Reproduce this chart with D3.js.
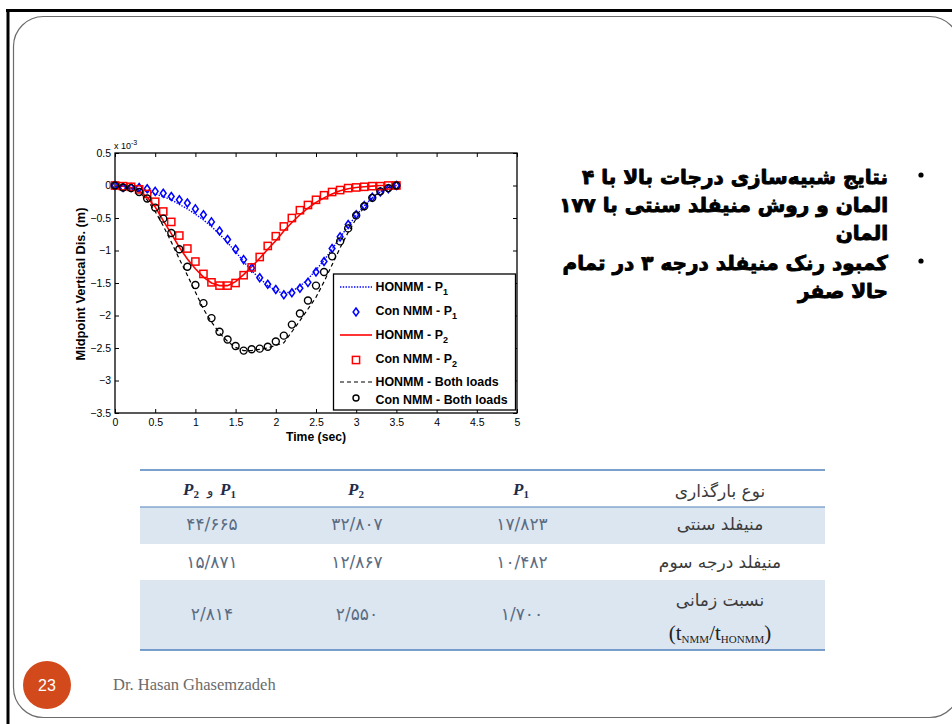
<!DOCTYPE html>
<html>
<head>
<meta charset="utf-8">
<script src="https://cdn.jsdelivr.net/npm/d3@7/dist/d3.min.js"></script>
<style>
  html, body { margin: 0; padding: 0; background: #fff; }
  svg { display: block; }
</style>
</head>
<body>
<svg id="slide" width="952" height="724"></svg>
<script>
// ---- Chart data: midpoint vertical displacement (x 10^-3 m) against time (s) ----
const time = [0,0.1,0.2,0.3,0.4,0.5,0.6,0.7,0.8,0.9,1.0,1.1,1.2,1.3,1.4,1.5,1.6,1.7,1.8,1.9,
              2.0,2.1,2.2,2.3,2.4,2.5,2.6,2.7,2.8,2.9,3.0,3.1,3.2,3.3,3.4,3.5];

const honmmP1 = [0,-0.01,-0.03,-0.06,-0.09,-0.13,-0.17,-0.22,-0.29,-0.36,-0.44,-0.53,-0.63,-0.75,-0.88,-1.02,
                 -1.17,-1.31,-1.43,-1.54,-1.62,-1.66,-1.63,-1.55,-1.44,-1.30,-1.15,-0.98,-0.80,-0.62,-0.46,
                 -0.31,-0.19,-0.10,-0.04,0];
const conP1   = [0,-0.03,-0.03,-0.03,-0.05,-0.09,-0.12,-0.17,-0.22,-0.27,-0.36,-0.45,-0.56,-0.70,-0.83,-0.98,
                 -1.14,-1.27,-1.42,-1.52,-1.60,-1.68,-1.65,-1.58,-1.49,-1.33,-1.17,-0.97,-0.79,-0.60,-0.45,
                 -0.31,-0.18,-0.10,-0.05,0];
const honmmP2 = [0,-0.01,-0.03,-0.08,-0.18,-0.33,-0.54,-0.74,-0.95,-1.13,-1.28,-1.41,-1.50,-1.54,-1.54,-1.48,
                 -1.37,-1.25,-1.12,-0.98,-0.85,-0.70,-0.57,-0.45,-0.35,-0.26,-0.19,-0.13,-0.08,-0.05,-0.03,
                 -0.02,-0.01,0,0,0];
const conP2   = [0,-0.01,-0.02,-0.06,-0.13,-0.25,-0.40,-0.56,-0.77,-0.97,-1.17,-1.36,-1.49,-1.54,-1.54,-1.50,
                 -1.38,-1.26,-1.10,-0.93,-0.78,-0.63,-0.50,-0.38,-0.30,-0.22,-0.15,-0.10,-0.07,-0.04,-0.03,
                 -0.02,-0.01,-0.01,0,0];
const honmmBoth = [0,-0.01,-0.04,-0.10,-0.22,-0.40,-0.62,-0.87,-1.13,-1.38,-1.64,-1.90,-2.10,-2.27,-2.40,-2.49,
                   -2.54,-2.54,-2.52,-2.50,-2.46,-2.42,-2.25,-2.08,-1.90,-1.72,-1.48,-1.22,-0.96,-0.72,-0.51,
                   -0.33,-0.19,-0.09,-0.03,0];
const conBoth = [0,-0.03,-0.04,-0.10,-0.20,-0.34,-0.51,-0.73,-0.98,-1.25,-1.53,-1.81,-2.04,-2.25,-2.37,-2.47,
                 -2.54,-2.52,-2.51,-2.48,-2.40,-2.31,-2.14,-1.97,-1.77,-1.54,-1.33,-1.09,-0.86,-0.66,-0.46,
                 -0.32,-0.19,-0.09,-0.04,0];

const xTicks = [0,0.5,1,1.5,2,2.5,3,3.5,4,4.5,5];
const yTicks = [0.5,0,-0.5,-1,-1.5,-2,-2.5,-3,-3.5];

const legendNames = [
  ["HONMM - P", "1"],
  ["Con NMM - P", "1"],
  ["HONMM - P", "2"],
  ["Con NMM - P", "2"],
  ["HONMM - Both loads", ""],
  ["Con NMM - Both loads", ""]
];

// ---- Slide text ----
const bulletLines = [
  "نتایج شبیه‌سازی درجات بالا با ۴",
  "المان و روش منیفلد سنتی با ۱۷۷",
  "المان",
  "کمبود رنک منیفلد درجه ۳ در تمام",
  "حالا صفر"
];

// ---- Table: CPU time comparison ----
const tableRowLabels = ["منیفلد سنتی", "منیفلد درجه سوم", "نسبت زمانی"];
const colP1   = ["۱۷/۸۲۳", "۱۰/۴۸۲", "۱/۷۰۰"];
const colP2   = ["۳۲/۸۰۷", "۱۲/۸۶۷", "۲/۵۵۰"];
const colBoth = ["۴۴/۶۶۵", "۱۵/۸۷۱", "۲/۸۱۴"];

const svg = d3.select("#slide");

// ---- Slide frame ----
svg.append("rect").attr("x", 0).attr("y", 0).attr("width", 952).attr("height", 724).attr("fill", "#fff");
svg.append("line").attr("x1", 6).attr("x2", 952).attr("y1", 10.5).attr("y2", 10.5)
  .attr("stroke", "#000").attr("stroke-width", 3);
svg.append("line").attr("x1", 8).attr("x2", 8).attr("y1", 9).attr("y2", 724)
  .attr("stroke", "#000").attr("stroke-width", 3);
svg.append("rect").attr("x", 13.5).attr("y", 16.5).attr("width", 946).attr("height", 701)
  .attr("rx", 30).attr("ry", 30).attr("fill", "none").attr("stroke", "#6b6b6b").attr("stroke-width", 1.2);

// ---- Chart ----
const FONT = "'Liberation Sans', Arial, sans-serif";
const x = d3.scaleLinear().domain([0, 5]).range([115, 517]);
const y = d3.scaleLinear().domain([-3.5, 0.5]).range([413, 153]);

const chart = svg.append("g").attr("font-family", FONT);

chart.append("rect").attr("x", 115).attr("y", 153).attr("width", 402).attr("height", 260)
  .attr("fill", "#fff");

function styleAxis(g) {
  g.select(".domain").remove();
  g.selectAll(".tick line").attr("stroke", "#000").attr("stroke-width", 1);
  g.selectAll(".tick text").attr("fill", "#000").attr("font-size", 10.5).attr("font-family", FONT);
}

chart.append("g").attr("transform", "translate(0,413)")
  .call(d3.axisBottom(x).tickValues(xTicks).tickFormat(d3.format("~g")).tickSizeInner(-4).tickSizeOuter(0).tickPadding(6))
  .call(styleAxis);
chart.append("g").attr("transform", "translate(0,153)")
  .call(d3.axisTop(x).tickValues(xTicks).tickFormat("").tickSizeInner(-4).tickSizeOuter(0))
  .call(styleAxis);
chart.append("g").attr("transform", "translate(115,0)")
  .call(d3.axisLeft(y).tickValues(yTicks).tickFormat(d3.format("~g")).tickSizeInner(-4).tickSizeOuter(0).tickPadding(4))
  .call(styleAxis);
chart.append("g").attr("transform", "translate(517,0)")
  .call(d3.axisRight(y).tickValues(yTicks).tickFormat("").tickSizeInner(-4).tickSizeOuter(0))
  .call(styleAxis);

chart.append("rect").attr("x", 115).attr("y", 153).attr("width", 402).attr("height", 260)
  .attr("fill", "none").attr("stroke", "#000").attr("stroke-width", 1.3);

// exponent label
const expo = chart.append("text").attr("x", 114).attr("y", 149).attr("font-size", 9).attr("fill", "#000");
expo.append("tspan").text("x 10");
expo.append("tspan").attr("dy", -4).attr("font-size", 7).text("-3");

// axis titles
chart.append("text").attr("x", 316).attr("y", 441).attr("text-anchor", "middle")
  .attr("font-size", 12.2).attr("font-weight", "bold").text("Time (sec)");
chart.append("text").attr("transform", "translate(85,284) rotate(-90)").attr("text-anchor", "middle")
  .attr("font-size", 12.8).attr("font-weight", "bold").text("Midpoint Vertical Dis. (m)");

const line = d3.line().x((d, i) => x(time[i])).y(d => y(d));

const plotArea = chart.append("g");

// HONMM curves
plotArea.append("path").datum(honmmBoth).attr("d", line).attr("fill", "none")
  .attr("stroke", "#000").attr("stroke-width", 1.2).attr("stroke-dasharray", "4,3");
plotArea.append("path").datum(honmmP1).attr("d", line).attr("fill", "none")
  .attr("stroke", "#0000ff").attr("stroke-width", 1.4).attr("stroke-dasharray", "1.4,1.4");
plotArea.append("path").datum(honmmP2).attr("d", line).attr("fill", "none")
  .attr("stroke", "#ff0000").attr("stroke-width", 1.6);

// Con NMM markers
const diamond = s => `M0,${-s}L${s * 0.72},0L0,${s}L${-s * 0.72},0Z`;
plotArea.append("g").selectAll("path").data(conP1).join("path")
  .attr("transform", (d, i) => `translate(${x(time[i])},${y(d)})`)
  .attr("d", diamond(4)).attr("fill", "none").attr("stroke", "#0000ff").attr("stroke-width", 1.5);
plotArea.append("g").selectAll("rect").data(conP2).join("rect")
  .attr("x", (d, i) => x(time[i]) - 3.6).attr("y", d => y(d) - 3.6)
  .attr("width", 7.2).attr("height", 7.2).attr("fill", "none").attr("stroke", "#ff0000").attr("stroke-width", 1.5);
plotArea.append("g").selectAll("circle").data(conBoth).join("circle")
  .attr("cx", (d, i) => x(time[i])).attr("cy", d => y(d)).attr("r", 3.5)
  .attr("fill", "none").attr("stroke", "#000").attr("stroke-width", 1.4);

// legend
const lg = chart.append("g");
lg.append("rect").attr("x", 333.5).attr("y", 274).attr("width", 182).attr("height", 136)
  .attr("fill", "#fff").attr("stroke", "#000").attr("stroke-width", 1.3);
const rowsY = [287, 311, 335, 359, 382, 400];
const textX = 375.5;
legendNames.forEach((nm, i) => {
  const t = lg.append("text").attr("x", textX).attr("y", rowsY[i] + 4)
    .attr("font-size", 12.4).attr("font-weight", "bold").attr("fill", "#000");
  t.append("tspan").text(nm[0]);
  if (nm[1]) t.append("tspan").attr("dy", 4).attr("font-size", 9).text(nm[1]);
});
lg.append("line").attr("x1", 340).attr("x2", 372).attr("y1", rowsY[0]).attr("y2", rowsY[0])
  .attr("stroke", "#0000ff").attr("stroke-width", 1.4).attr("stroke-dasharray", "1.4,1.4");
lg.append("path").attr("transform", `translate(356,${rowsY[1] + 1})`).attr("d", diamond(4))
  .attr("fill", "none").attr("stroke", "#0000ff").attr("stroke-width", 1.5);
lg.append("line").attr("x1", 340).attr("x2", 372).attr("y1", rowsY[2]).attr("y2", rowsY[2])
  .attr("stroke", "#ff0000").attr("stroke-width", 1.6);
lg.append("rect").attr("x", 352.4).attr("y", rowsY[3] - 2.6).attr("width", 7.2).attr("height", 7.2)
  .attr("fill", "none").attr("stroke", "#ff0000").attr("stroke-width", 1.5);
lg.append("line").attr("x1", 340).attr("x2", 372).attr("y1", rowsY[4]).attr("y2", rowsY[4])
  .attr("stroke", "#000").attr("stroke-width", 1.2).attr("stroke-dasharray", "4,3");
lg.append("circle").attr("cx", 356).attr("cy", rowsY[5] - 2).attr("r", 3)
  .attr("fill", "none").attr("stroke", "#000").attr("stroke-width", 1.4);

// ---- Bullet text ----
const PFONT = "'DejaVu Sans', sans-serif";
const bl = svg.append("g").attr("font-family", PFONT).attr("font-weight", "bold").attr("fill", "#000")
  .attr("stroke", "#000").attr("stroke-width", 0.9).attr("stroke-linejoin", "round");
const lineY = [184, 212, 240, 270, 298];
bulletLines.forEach((s, i) => {
  bl.append("text").attr("x", 888).attr("y", lineY[i]).attr("direction", "rtl")
    .attr("text-anchor", "start").attr("font-size", 20).text(s);
});
[0, 3].forEach(i => {
  bl.append("circle").attr("cx", 921).attr("cy", lineY[i] - 9).attr("r", 2.6).attr("fill", "#000").attr("stroke", "none");
});

// ---- Table ----
const tb = svg.append("g").attr("font-family", PFONT);
const rowTop = [470, 507, 544, 580];
const rowBottom = [507, 544, 580, 650];
const colCenters = [212, 357, 522, 720];
tb.append("rect").attr("x", 140).attr("y", rowTop[1]).attr("width", 685).attr("height", rowBottom[1] - rowTop[1]).attr("fill", "#dce6f1");
tb.append("rect").attr("x", 140).attr("y", rowTop[3]).attr("width", 685).attr("height", rowBottom[3] - rowTop[3]).attr("fill", "#dce6f1");
[470, 507, 650].forEach(yy => {
  tb.append("line").attr("x1", 140).attr("x2", 825).attr("y1", yy).attr("y2", yy)
    .attr("stroke", "#4f81bd").attr("stroke-width", yy === 507 ? 1 : 1.5);
});

// header
tb.append("text").attr("x", colCenters[3]).attr("y", 497).attr("text-anchor", "middle")
  .attr("direction", "rtl").attr("font-size", 17).attr("fill", "#3b3b3b").text("نوع بارگذاری");
function pLabel(g, xPos, yPos, sub) {
  const t = g.append("text").attr("x", xPos).attr("y", yPos).attr("font-family", "'Liberation Serif', serif")
    .attr("font-style", "italic").attr("font-weight", "bold").attr("font-size", 17).attr("fill", "#1f2d4a");
  t.append("tspan").text("P");
  t.append("tspan").attr("dy", 3).attr("font-size", 11).attr("font-style", "normal").text(sub);
  return t;
}
pLabel(tb, 513, 495, "1");
pLabel(tb, 348, 495, "2");
pLabel(tb, 183, 495, "2");
tb.append("text").attr("x", 207).attr("y", 495).attr("font-size", 13).attr("fill", "#1f2d4a").text("و");
pLabel(tb, 220, 495, "1");

// body rows
const bodyY = [530, 568, 620];
tableRowLabels.forEach((s, i) => {
  const yy = i === 2 ? 606 : bodyY[i];
  tb.append("text").attr("x", colCenters[3]).attr("y", yy).attr("text-anchor", "middle")
    .attr("direction", "rtl").attr("font-size", 17).attr("fill", "#3b3b3b").text(s);
});
const ratio = tb.append("text").attr("x", colCenters[3]).attr("y", 640).attr("text-anchor", "middle")
  .attr("font-family", "'Liberation Serif', serif").attr("font-size", 21).attr("fill", "#222");
ratio.append("tspan").text("(t");
ratio.append("tspan").attr("dy", 3).attr("font-size", 11).text("NMM");
ratio.append("tspan").attr("dy", -3).text("/t");
ratio.append("tspan").attr("dy", 3).attr("font-size", 11).text("HONMM");
ratio.append("tspan").attr("dy", -3).text(")");

[[colBoth, 0], [colP2, 1], [colP1, 2]].forEach(([col, c]) => {
  col.forEach((v, i) => {
    tb.append("text").attr("x", colCenters[c]).attr("y", bodyY[i]).attr("text-anchor", "middle")
      .attr("font-size", 17).attr("fill", "#5a6c82").text(v);
  });
});

// ---- Footer ----
svg.append("circle").attr("cx", 47).attr("cy", 685).attr("r", 24).attr("fill", "#d24a1c");
svg.append("text").attr("x", 47).attr("y", 691).attr("text-anchor", "middle")
  .attr("font-family", FONT).attr("font-size", 16).attr("fill", "#fff").text("23");
svg.append("text").attr("x", 113).attr("y", 690)
  .attr("font-family", "'Liberation Serif', serif").attr("font-size", 16.5).attr("fill", "#6b6b6b")
  .text("Dr. Hasan Ghasemzadeh");
</script>
</body>
</html>
